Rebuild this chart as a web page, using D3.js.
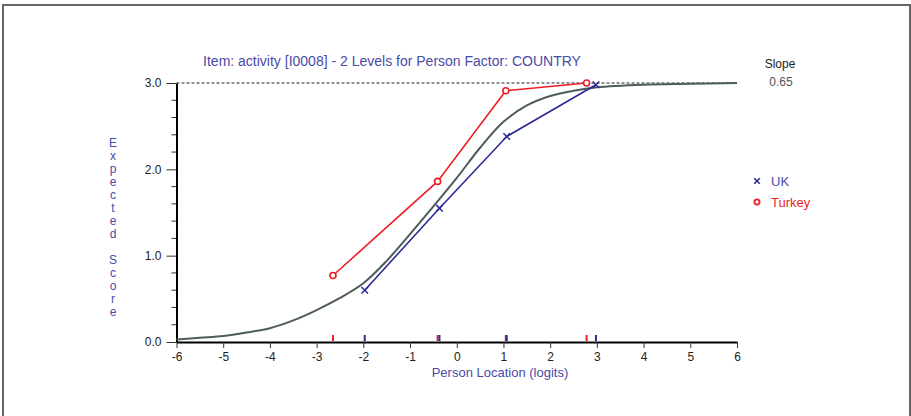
<!DOCTYPE html>
<html>
<head>
<meta charset="utf-8">
<script src="https://cdn.jsdelivr.net/npm/d3@7"></script>
<style>
  body { margin: 0; background: #fff; }
  text { font-family: "Liberation Sans", Arial, sans-serif; }
</style>
</head>
<body>
<div id="chart"></div>
<script>
// expected score curve
const curveLoc = [-6, -5.5, -5, -4.5, -4, -3.5, -3, -2.5, -2, -1.5, -1, -0.5, 0, 0.5, 1, 1.5, 2, 2.5, 3, 4, 5, 6];
const curveVal = [0.03, 0.05, 0.07, 0.11, 0.16, 0.25, 0.37, 0.51, 0.68, 0.94, 1.25, 1.57, 1.9, 2.25, 2.55, 2.74, 2.85, 2.91, 2.95, 2.98, 2.99, 3.0];

// observed class means per group
const ukLoc = [-1.97, -0.37, 1.07, 2.98];
const ukVal = [0.60, 1.55, 2.38, 2.98];
const trLoc = [-2.65, -0.41, 1.05, 2.78];
const trVal = [0.77, 1.86, 2.91, 3.0];

const xTicks = [-6, -5, -4, -3, -2, -1, 0, 1, 2, 3, 4, 5, 6];
const yTicks = [0, 1, 2, 3];
const yMinor = [0.2, 0.4, 0.6, 0.8, 1.2, 1.4, 1.6, 1.8, 2.2, 2.4, 2.6, 2.8];
const slope = 0.65;

const width = 911, height = 416;
const red = "#ee1c25", blue = "#2b2b96", labBlue = "#4a4aa8";

const svg = d3.select("#chart")
  .append("svg")
    .attr("width", width)
    .attr("height", height);

// outer frame
svg.append("path")
  .attr("d", "M3,418 L3,5 L910,5 L910,418")
  .attr("fill", "none")
  .attr("stroke", "#666")
  .attr("stroke-width", 2);

const x = d3.scaleLinear().domain([-6, 6]).range([176.5, 737]);
const y = d3.scaleLinear().domain([0, 3]).range([342, 83]);

// dashed max line
svg.append("line")
  .attr("x1", x(-6)).attr("x2", x(6))
  .attr("y1", y(3)).attr("y2", y(3))
  .attr("stroke", "#222")
  .attr("stroke-width", 1)
  .attr("stroke-dasharray", "3,2");

// X axis
const xAxis = svg.append("g")
  .attr("transform", `translate(0,${y(0)})`)
  .call(d3.axisBottom(x).tickValues(xTicks).tickSizeInner(6).tickSizeOuter(0)
    .tickFormat(d => String(d)));
xAxis.select(".domain").attr("stroke", "#000").attr("stroke-width", 2);
xAxis.selectAll(".tick line").attr("stroke", "#333");
xAxis.selectAll(".tick text").attr("font-size", 12).attr("fill", "#222").attr("dy", "0.85em");

// Y axis
const yAxis = svg.append("g")
  .attr("transform", `translate(${x(-6)},0)`)
  .call(d3.axisLeft(y).tickValues(yTicks).tickSizeInner(10).tickSizeOuter(0)
    .tickFormat(d3.format(".1f")));
yAxis.select(".domain").attr("stroke", "#000").attr("stroke-width", 2);
yAxis.selectAll(".tick line").attr("stroke", "#333");
yAxis.selectAll(".tick text").attr("font-size", 12).attr("fill", "#222").attr("x", -15);

svg.append("g")
  .selectAll("line")
  .data(yMinor)
  .join("line")
    .attr("x1", x(-6) - 5).attr("x2", x(-6))
    .attr("y1", d => y(d)).attr("y2", d => y(d))
    .attr("stroke", "#333");

// group location markers on the x axis
svg.append("g")
  .selectAll("line")
  .data(trLoc.map(d => ({v: d, c: red})).concat(ukLoc.map(d => ({v: d, c: blue}))))
  .join("line")
    .attr("x1", d => x(d.v)).attr("x2", d => x(d.v))
    .attr("y1", y(0) - 7).attr("y2", y(0) - 1)
    .attr("stroke", d => d.c)
    .attr("stroke-width", 2);

// model curve
const curveData = curveLoc.map((d, i) => ({x: d, y: curveVal[i]}));
svg.append("path")
  .datum(curveData)
  .attr("fill", "none")
  .attr("stroke", "#4d5c5c")
  .attr("stroke-width", 2)
  .attr("d", d3.line().x(d => x(d.x)).y(d => y(d.y)).curve(d3.curveCatmullRom));

const line = d3.line().x(d => x(d.x)).y(d => y(d.y));
const ukData = ukLoc.map((d, i) => ({x: d, y: ukVal[i]}));
const trData = trLoc.map((d, i) => ({x: d, y: trVal[i]}));

svg.append("path").datum(trData)
  .attr("fill", "none").attr("stroke", red).attr("stroke-width", 1.6)
  .attr("d", line);
svg.append("path").datum(ukData)
  .attr("fill", "none").attr("stroke", blue).attr("stroke-width", 1.6)
  .attr("d", line);

svg.append("g").selectAll("circle")
  .data(trData)
  .join("circle")
    .attr("cx", d => x(d.x)).attr("cy", d => y(d.y))
    .attr("r", 3)
    .attr("fill", "#fff")
    .attr("stroke", red)
    .attr("stroke-width", 1.6);

const cross = d3.symbol().type(d3.symbolX).size(30);
svg.append("g").selectAll("path")
  .data(ukData)
  .join("path")
    .attr("transform", d => `translate(${x(d.x)},${y(d.y)})`)
    .attr("d", cross)
    .attr("stroke", blue)
    .attr("stroke-width", 1.5)
    .attr("fill", "none");

// title
svg.append("text")
  .attr("x", 392).attr("y", 66)
  .attr("text-anchor", "middle")
  .attr("font-size", 14)
  .attr("fill", labBlue)
  .text("Item: activity [I0008] - 2 Levels for Person Factor: COUNTRY");

// slope
svg.append("text")
  .attr("x", 780).attr("y", 68)
  .attr("text-anchor", "middle")
  .attr("font-size", 12)
  .attr("fill", "#222")
  .text("Slope");
svg.append("text")
  .attr("x", 781).attr("y", 86)
  .attr("text-anchor", "middle")
  .attr("font-size", 12)
  .attr("fill", "#555")
  .text(d3.format(".2f")(slope));

// axis titles
svg.append("text")
  .attr("x", 500).attr("y", 377)
  .attr("text-anchor", "middle")
  .attr("font-size", 13)
  .attr("fill", labBlue)
  .text("Person Location (logits)");

const yLab = "Expected Score".split("");
svg.append("g").selectAll("text")
  .data(yLab)
  .join("text")
    .attr("x", 113)
    .attr("y", (d, i) => 147 + i * 13)
    .attr("text-anchor", "middle")
    .attr("font-size", 12)
    .attr("fill", labBlue)
    .text(d => d);

// legend
const legend = svg.append("g");
legend.append("path")
  .attr("transform", "translate(757,181)")
  .attr("d", d3.symbol().type(d3.symbolX).size(22))
  .attr("stroke", blue).attr("stroke-width", 1.6).attr("fill", "none");
legend.append("text")
  .attr("x", 771).attr("y", 186)
  .attr("font-size", 13).attr("fill", labBlue)
  .text("UK");
legend.append("circle")
  .attr("cx", 757).attr("cy", 202).attr("r", 2.6)
  .attr("fill", "#fff").attr("stroke", red).attr("stroke-width", 1.8);
legend.append("text")
  .attr("x", 771).attr("y", 207)
  .attr("font-size", 13).attr("fill", red)
  .text("Turkey");
</script>
</body>
</html>
